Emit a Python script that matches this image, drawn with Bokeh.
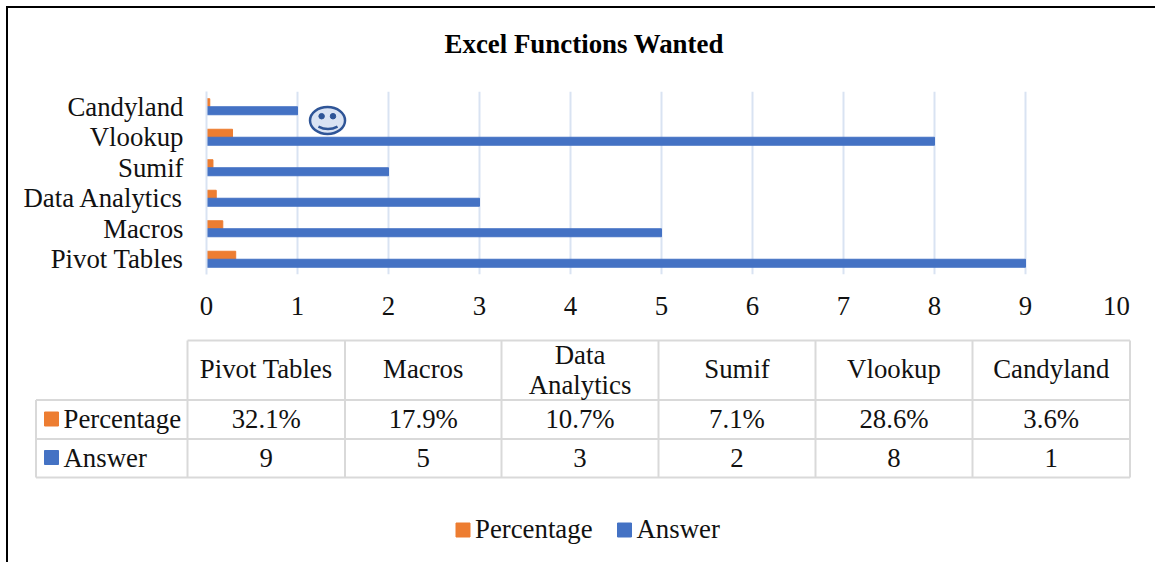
from bokeh.plotting import figure
from bokeh.layouts import column
from bokeh.models import Range1d, FactorRange, FixedTicker
from bokeh.transform import dodge
from bokeh.core.properties import value
from bokeh.embed import file_html
from bokeh.resources import INLINE

categories = ["Pivot Tables", "Macros", "Data Analytics", "Sumif", "Vlookup", "Candyland"]
answer = [9, 5, 3, 2, 8, 1]
percentage = [0.321, 0.179, 0.107, 0.071, 0.286, 0.036]
percentage_labels = ["32.1%", "17.9%", "10.7%", "7.1%", "28.6%", "3.6%"]
x_ticks = [0, 1, 2, 3, 4, 5, 6, 7, 8, 9, 10]
title = "Excel Functions Wanted"

FONT = "Liberation Serif"
ORANGE, BLUE = "#ed7d31", "#4472c4"
GRID = "#d9e3f2"
TABLE = "#d9d9d9"
FS = "26.8px"
W = 1147
HEAD_H = 60
TOP_H = 262
BOT_H = 234

# heading strip
h = figure(width=W, height=HEAD_H, output_backend="svg", toolbar_location=None,
           x_range=Range1d(8, 1155), y_range=Range1d(68, 8),
           min_border=0, outline_line_color=None, background_fill_color="white",
           border_fill_color="white", frame_align=False)
h.axis.visible = False
h.grid.visible = False
h.text(x=[444], y=[43], text=[title], text_font=value(FONT), text_font_size=value("26.9px"),
       text_font_style="bold", text_color="#000000", text_align="left", text_baseline="middle")

p = figure(width=W, height=TOP_H, output_backend="svg", toolbar_location=None,
           x_range=Range1d(0, 10), y_range=FactorRange(*categories, range_padding=0),
           min_border_left=198, min_border_right=39, min_border_top=23, min_border_bottom=56,
           outline_line_color=None, background_fill_color="white", border_fill_color="white",
           frame_align=False)
p.xaxis.ticker = FixedTicker(ticks=x_ticks)
p.xaxis.axis_line_color = None
p.xaxis.major_tick_line_color = None
p.xaxis.minor_tick_line_color = None
p.xaxis.major_label_text_font = FONT
p.xaxis.major_label_text_font_size = FS
p.xaxis.major_label_text_color = "#111111"
p.xaxis.major_label_standoff = 16
p.yaxis.axis_line_color = GRID
p.yaxis.axis_line_width = 2
p.yaxis.major_tick_line_color = None
p.yaxis.minor_tick_line_color = None
p.yaxis.major_label_text_font = FONT
p.yaxis.major_label_text_font_size = FS
p.yaxis.major_label_text_color = "#111111"
p.yaxis.major_label_standoff = 17
p.ygrid.grid_line_color = None
p.xgrid.grid_line_color = GRID
p.xgrid.grid_line_width = 2

p.hbar(y=dodge("c", 0.131, range=p.y_range), right="v", left=0, height=0.262, color=ORANGE,
       source={"c": categories, "v": percentage})
p.hbar(y=dodge("c", -0.131, range=p.y_range), right="v", left=0, height=0.262, color=BLUE,
       source={"c": categories, "v": answer})

# decorative smiley, above the Vlookup row (x in axis units, y as band offsets)
p.ellipse(x="x", y=dodge("c", 0.55, range=p.y_range), width="w", height="h",
          fill_color="#dae3f3", line_color="#2f5597", line_width=2.5,
          source={"c": ["Vlookup"], "x": [1.33], "w": [0.385], "h": [0.885]})
p.scatter(x="x", y=dodge("c", 0.69, range=p.y_range), size=5.5, color="#2f5597",
          source={"c": ["Vlookup", "Vlookup"], "x": [1.265, 1.39]})
p.quadratic(x0="x0", y0=dodge("c", 0.35, range=p.y_range), x1="x1",
            y1=dodge("c", 0.35, range=p.y_range), cx="cx", cy=dodge("c", 0.19, range=p.y_range),
            line_color="#2f5597", line_width=2.5,
            source={"c": ["Vlookup"], "x0": [1.23], "x1": [1.44], "cx": [1.335]})

# data table and legend below the plot
t = figure(width=W, height=BOT_H, output_backend="svg", toolbar_location=None,
           x_range=Range1d(8, 1155), y_range=Range1d(564, 330),
           min_border=0, outline_line_color=None, background_fill_color="white",
           border_fill_color="white", frame_align=False)
t.axis.visible = False
t.grid.visible = False

col_x = [187, 344.5, 501, 658, 815, 972, 1129.5]
L = 35.5
xs0 = list(col_x) + [L, L, L] + [col_x[0]] + [L]
ys0 = [340] * 7 + [399.5, 438.5, 477] + [340] + [399.5]
xs1 = list(col_x) + [col_x[-1]] * 3 + [col_x[-1]] + [L]
ys1 = [477] * 7 + [399.5, 438.5, 477] + [340] + [477]
t.segment(xs0, ys0, xs1, ys1, line_color=TABLE, line_width=2)

centers = [(a + b) / 2 for a, b in zip(col_x, col_x[1:])]
tkw = dict(text_font=value(FONT), text_font_size=value(FS), text_color="#111111",
           text_baseline="middle")
hdr = [c if c != "Data Analytics" else None for c in categories]
hx = [c for c, c_h in zip(centers, hdr) if c_h]
t.text(x=hx, y=[368.5] * len(hx), text=[c_h for c_h in hdr if c_h], text_align="center", **tkw)
dx = centers[categories.index("Data Analytics")]
t.text(x=[dx, dx], y=[354, 384], text=categories[2].split(" "), text_align="center", **tkw)
t.text(x=centers, y=[418] * 6, text=percentage_labels, text_align="center", **tkw)
t.text(x=centers, y=[457] * 6, text=[str(a) for a in answer], text_align="center", **tkw)

series = ["Percentage", "Answer"]
t.rect(x=[51, 51], y=[418.5, 457], width=14, height=14, color=[ORANGE, BLUE])
t.text(x=[63, 63], y=[418, 457], text=series, text_align="left", **tkw)
t.rect(x=[462.5, 624], y=[529.5, 529.5], width=14, height=14, color=[ORANGE, BLUE])
t.text(x=[474.5, 636], y=[528.5, 528.5], text=series, text_align="left", **tkw)

root = column(h, p, t, spacing=0, margin=(8, 0, 0, 8),
              styles={"box-shadow": "-2px -2px 0 0 #000, 2px -2px 0 0 #000"})
open("out.html", "w").write(file_html(root, INLINE))
